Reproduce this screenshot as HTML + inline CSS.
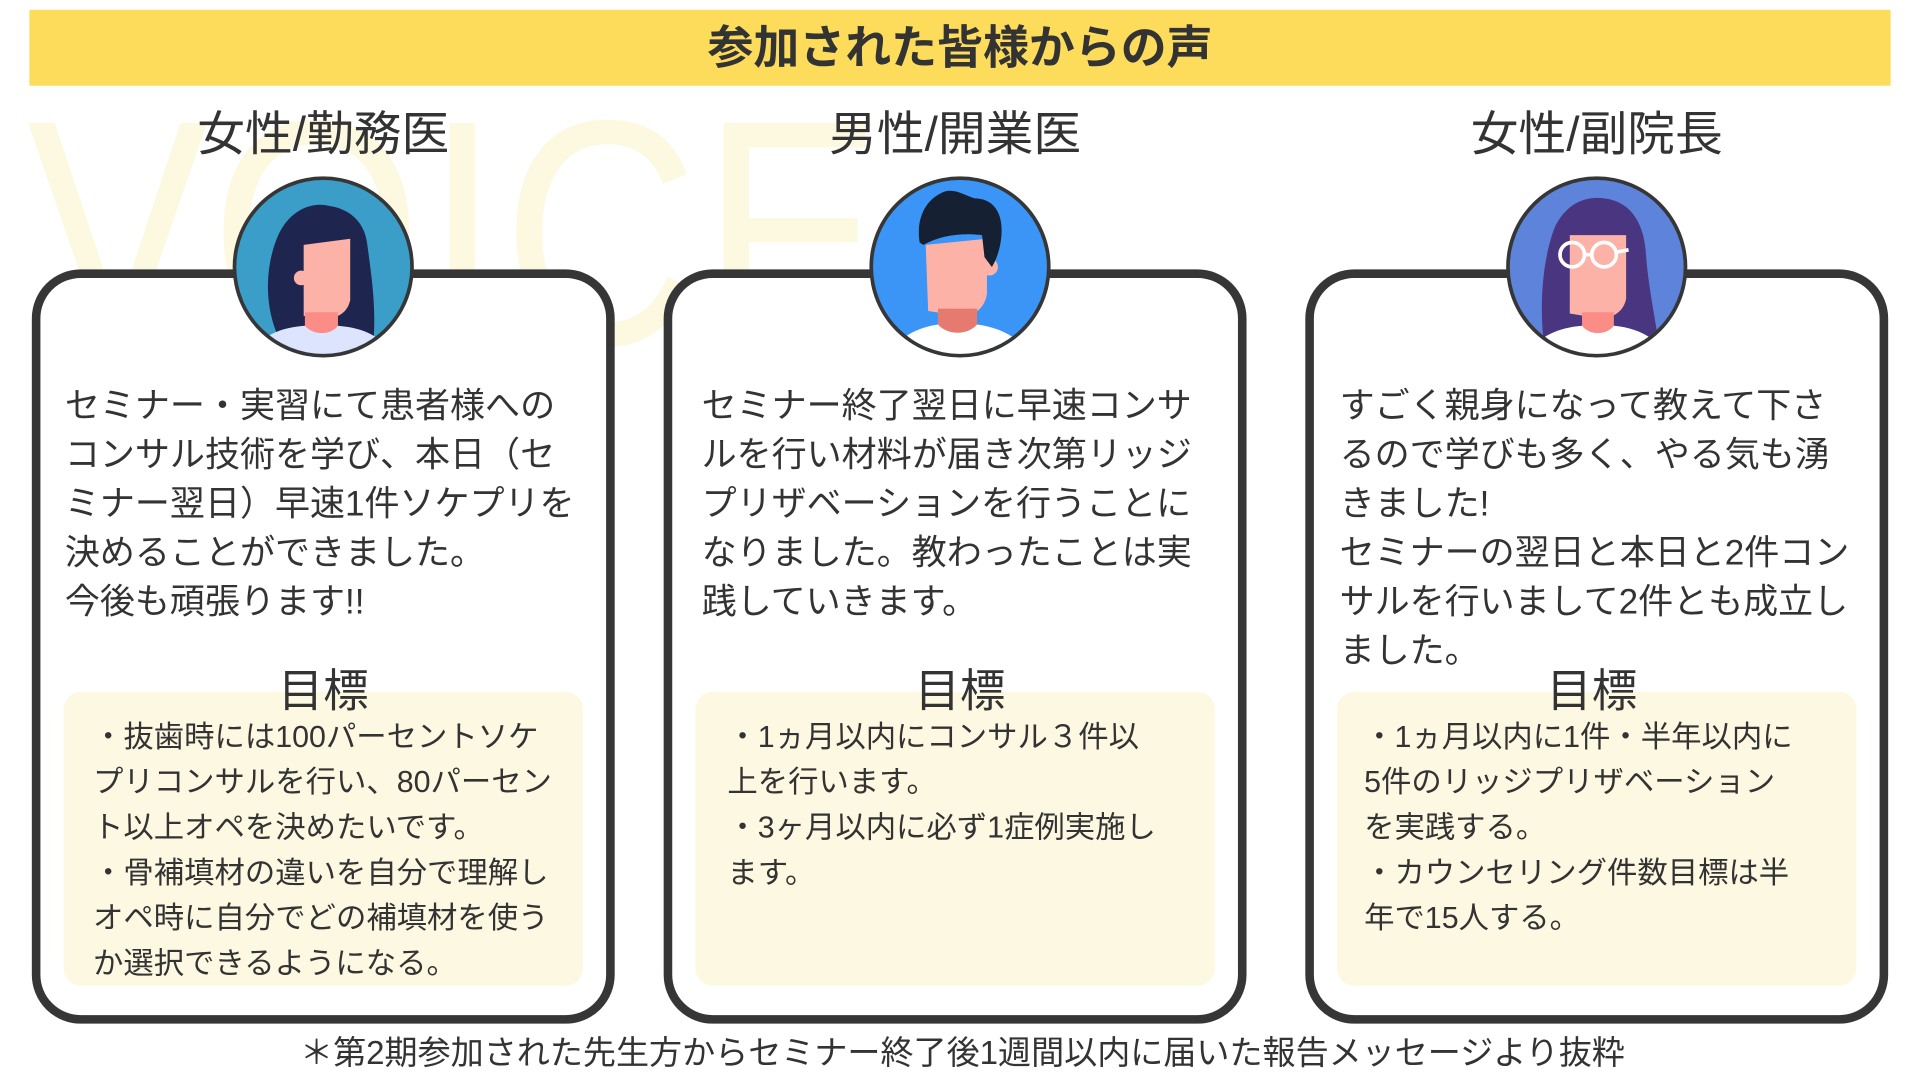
<!DOCTYPE html>
<html><head><meta charset="utf-8">
<style>
html,body{margin:0;padding:0;background:#fff;}
body{width:1920px;height:1080px;overflow:hidden;position:relative;}
#s{position:absolute;left:0;top:0;width:1568px;height:882px;transform:scale(1.22449);transform-origin:0 0;font-family:"Liberation Sans","Noto Sans CJK JP",sans-serif;color:#333;}
.ab{position:absolute;}
.banner{left:24px;top:8px;width:1520px;height:62px;background:#fddc5c;text-align:center;line-height:62px;font-size:37.5px;font-weight:bold;color:#333;}
.voice{left:22px;top:60px;font-size:222px;color:#fdf8e0;font-family:"Liberation Sans",sans-serif;transform:scaleY(1.18);transform-origin:0 0;letter-spacing:2px;line-height:1;}
.card{border:7px solid #363636;border-radius:40px;background:#fff;width:462px;height:602px;top:220px;box-sizing:content-box;}
.hdr{font-size:39px;width:480px;text-align:center;top:87px;line-height:48px;}
.body{font-size:28.6px;line-height:40px;white-space:nowrap;}
.goalt{font-size:37px;width:424px;text-align:center;line-height:44px;top:543px;}
.gbox{background:#fdf8e1;border-radius:14px;width:424px;height:240px;top:565px;}
.gtxt{font-size:24.8px;line-height:37px;white-space:nowrap;top:584px;}
.foot{left:0;width:1572px;text-align:center;top:843px;font-size:27px;line-height:34px;}
</style></head><body><div id="s">
<div class="ab banner">参加された皆様からの声</div>
<div class="ab voice">VOICE</div>

<div class="ab card" style="left:26px;"></div>
<div class="ab card" style="left:542px;"></div>
<div class="ab card" style="left:1066px;"></div>

<div class="ab hdr" style="left:24px;">女性/勤務医</div>
<div class="ab hdr" style="left:540px;">男性/開業医</div>
<div class="ab hdr" style="left:1064px;">女性/副院長</div>

<!-- avatar 1 -->
<svg class="ab" style="left:186px;top:140px" width="156" height="156" viewBox="0 0 156 156">
<defs><clipPath id="c1"><circle cx="78" cy="78" r="71"/></clipPath></defs>
<circle cx="78" cy="78" r="74" fill="#363636"/>
<g clip-path="url(#c1)">
<rect width="156" height="156" fill="#3b9ec8"/>
<path d="M50 150 C28 120 30 80 40 55 C50 30 70 25 82 28 C98 30 112 40 114 60 C118 90 122 115 118 150 Z" fill="#1e2650"/>
<path d="M62 60 L100 55 L100 105 C98 115 90 120 80 120 L62 118 Z" fill="#fdb2a8"/>
<circle cx="60" cy="87" r="6" fill="#fdb2a8"/>
<path d="M63 115 L90 115 L90 132 C84 140 70 140 63 132 Z" fill="#fb8d86"/>
<path d="M16 160 C22 135 40 128 63 126 C70 134 84 134 90 126 C112 128 130 135 140 160 Z" fill="#dde4fd"/>
</g></svg>
<!-- avatar 2 -->
<svg class="ab" style="left:706px;top:140px" width="156" height="156" viewBox="0 0 156 156">
<defs><clipPath id="c2"><circle cx="78" cy="78" r="71"/></clipPath></defs>
<circle cx="78" cy="78" r="74" fill="#363636"/>
<g clip-path="url(#c2)">
<rect width="156" height="156" fill="#3a95f6"/>
<path d="M50 60 L100 55 L100 100 C98 112 90 118 78 118 L52 114 Z" fill="#fdb2a8"/>
<circle cx="102" cy="78" r="7" fill="#fdb2a8"/>
<path d="M45 58 C42 38 50 24 62 18 C72 12 82 20 90 22 C104 22 112 32 112 48 C112 60 108 72 104 78 L98 70 L96 52 C80 50 62 52 48 60 Z" fill="#152033"/>
<path d="M60 112 L92 112 L92 130 C84 138 68 138 60 130 Z" fill="#e77a6f"/>
<path d="M16 160 C22 138 40 128 60 125 C68 134 84 134 92 125 C114 128 132 138 140 160 Z" fill="#fff"/>
</g></svg>
<!-- avatar 3 -->
<svg class="ab" style="left:1226px;top:140px" width="156" height="156" viewBox="0 0 156 156">
<defs><clipPath id="c3"><circle cx="78" cy="78" r="71"/></clipPath></defs>
<circle cx="78" cy="78" r="74" fill="#363636"/>
<g clip-path="url(#c3)">
<rect width="156" height="156" fill="#5d84da"/>
<path d="M36 150 C30 110 34 70 44 45 C54 25 70 20 84 22 C104 24 116 40 118 65 C120 95 126 120 130 150 Z" fill="#4a3580"/>
<path d="M56 52 L102 52 L102 104 C100 114 92 120 80 120 L56 116 Z" fill="#fdb2a8"/>
<path d="M66 115 L92 115 L92 132 C86 140 72 140 66 132 Z" fill="#fb8d86"/>
<path d="M16 160 C24 138 42 128 66 126 C72 134 86 134 92 126 C114 128 132 138 140 160 Z" fill="#fff"/>
<circle cx="58" cy="68" r="10" fill="none" stroke="#fff" stroke-width="3"/>
<circle cx="84" cy="68" r="10" fill="none" stroke="#fff" stroke-width="3"/>
<line x1="68" y1="68" x2="74" y2="68" stroke="#fff" stroke-width="3"/>
<line x1="94" y1="66" x2="104" y2="64" stroke="#fff" stroke-width="3"/>
</g></svg>

<div class="ab body" style="left:53px;top:312px;">セミナー・実習にて患者様への<br>コンサル技術を学び、本日（セ<br>ミナー翌日）早速1件ソケプリを<br>決めることができました。<br>今後も頑張ります!!</div>
<div class="ab body" style="left:573px;top:312px;">セミナー終了翌日に早速コンサ<br>ルを行い材料が届き次第リッジ<br>プリザベーションを行うことに<br>なりました。教わったことは実<br>践していきます。</div>
<div class="ab body" style="left:1094px;top:312px;">すごく親身になって教えて下さ<br>るので学びも多く、やる気も湧<br>きました!<br>セミナーの翌日と本日と2件コン<br>サルを行いまして2件とも成立し<br>ました。</div>

<div class="ab gbox" style="left:52px;"></div>
<div class="ab gbox" style="left:568px;"></div>
<div class="ab gbox" style="left:1092px;"></div>

<div class="ab goalt" style="left:52px;">目標</div>
<div class="ab goalt" style="left:572px;">目標</div>
<div class="ab goalt" style="left:1088px;">目標</div>

<div class="ab gtxt" style="left:76px;">・抜歯時には100パーセントソケ<br>プリコンサルを行い、80パーセン<br>ト以上オペを決めたいです。<br>・骨補填材の違いを自分で理解し<br>オペ時に自分でどの補填材を使う<br>か選択できるようになる。</div>
<div class="ab gtxt" style="left:594px;">・1ヵ月以内にコンサル３件以<br>上を行います。<br>・3ヶ月以内に必ず1症例実施し<br>ます。</div>
<div class="ab gtxt" style="left:1114px;">・1ヵ月以内に1件・半年以内に<br>5件のリッジプリザベーション<br>を実践する。<br>・カウンセリング件数目標は半<br>年で15人する。</div>

<div class="ab foot">＊第2期参加された先生方からセミナー終了後1週間以内に届いた報告メッセージより抜粋</div>
</div></body></html>
